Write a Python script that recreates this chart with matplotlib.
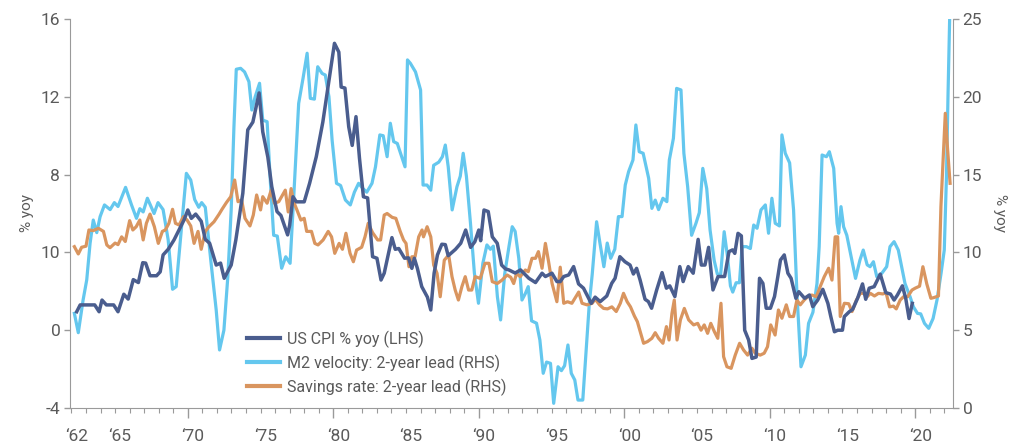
import matplotlib
matplotlib.use('Agg')
import matplotlib.pyplot as plt
from matplotlib.ticker import FixedLocator, MultipleLocator, FuncFormatter
from matplotlib.transforms import ScaledTranslation

plt.rcParams['font.family'] = ['Roboto', 'DejaVu Sans']

# US CPI % yoy (left axis)
cpi_years = [1962.36, 1962.6, 1963.6, 1963.9, 1964.1, 1964.4, 1964.9, 1965.2, 1965.6, 1965.9,
             1966.25, 1966.6, 1966.9, 1967.1, 1967.4, 1967.85, 1968.1, 1968.3, 1968.65, 1969.05,
             1969.45, 1969.74, 1970.0, 1970.24, 1970.54, 1970.92, 1971.2, 1971.5, 1971.95, 1972.25,
             1972.5, 1972.98, 1973.3, 1973.78, 1974.12, 1974.47, 1974.9, 1975.15, 1975.5, 1975.77,
             1976.13, 1976.4, 1976.86, 1977.0, 1977.23, 1977.46, 1978.0, 1978.37, 1978.83, 1979.28,
             1979.74, 1980.08, 1980.38, 1980.54, 1980.8, 1981.06, 1981.3, 1981.56, 1981.8, 1982.07,
             1982.36, 1982.7, 1983.0, 1983.28, 1983.5, 1984.03, 1984.26, 1984.5, 1984.9, 1985.17,
             1985.4, 1985.57, 1985.78, 1986.08, 1986.47, 1986.7, 1986.93, 1987.16, 1987.46, 1987.7,
             1987.9, 1988.4, 1988.76, 1989.1, 1989.44, 1989.73, 1990.0, 1990.13, 1990.36, 1990.65,
             1990.93, 1991.27, 1991.57, 1991.84, 1992.07, 1992.5, 1992.87, 1993.44, 1993.9, 1994.35,
             1994.58, 1995.03, 1995.37, 1995.6, 1995.84, 1996.18, 1996.52, 1996.86, 1997.2, 1997.73,
             1998.0, 1998.35, 1998.8, 1999.14, 1999.37, 1999.7, 2000.05, 2000.4, 2000.63, 2000.85,
             2001.09, 2001.43, 2001.66, 2001.88, 2002.23, 2002.6, 2002.9, 2003.13, 2003.48, 2003.82,
             2004.05, 2004.4, 2004.74, 2005.08, 2005.3, 2005.55, 2005.8, 2006.1, 2006.45, 2006.9,
             2007.2, 2007.45, 2007.6, 2007.82, 2008.05, 2008.28, 2008.55, 2008.78, 2009.07, 2009.3,
             2009.53, 2009.76, 2010.05, 2010.33, 2010.56, 2010.74, 2011.0, 2011.25, 2011.47, 2011.8,
             2012.0, 2012.4, 2012.73, 2012.96, 2013.3, 2013.65, 2014.0, 2014.2, 2014.45, 2014.68,
             2015.0, 2015.13, 2015.47, 2015.7, 2016.04, 2016.38, 2016.6, 2016.84, 2017.18, 2017.6,
             2017.98, 2018.3, 2018.55, 2018.78, 2019.12, 2019.35, 2019.58, 2019.8]
cpi = [0.95, 1.3, 1.3, 0.95, 1.55, 1.3, 1.3, 0.95, 1.85, 1.6,
       2.6, 2.45, 3.47, 3.45, 2.8, 2.8, 3.0, 3.87, 4.16, 4.64,
       5.24, 5.67, 6.18, 5.75, 5.97, 5.6, 4.67, 4.47, 3.35, 3.45,
       2.67, 3.35, 4.64, 7.04, 10.3, 10.7, 12.2, 10.2, 8.9, 7.38,
       6.1, 5.9, 4.9, 5.4, 6.86, 6.6, 6.6, 7.55, 8.92, 10.7,
       13.03, 14.75, 14.3, 12.5, 12.45, 10.46, 9.5, 10.98, 8.84, 6.86,
       6.8, 3.78, 3.7, 2.58, 2.93, 4.76, 4.16, 4.2, 3.7, 3.72,
       3.18, 3.7, 3.18, 2.24, 1.7, 1.04, 2.93, 3.87, 4.42, 4.4,
       3.83, 4.16, 4.47, 5.15, 4.26, 4.55, 5.15, 4.6, 6.18, 6.1,
       4.8, 4.47, 3.35, 3.15, 3.1, 2.94, 3.1, 2.67, 2.45, 2.93,
       2.76, 2.93, 2.5, 2.5, 2.76, 2.84, 3.27, 2.38, 2.16, 1.38,
       1.7, 1.47, 1.76, 2.41, 2.67, 3.78, 3.52, 3.35, 2.89, 3.18,
       2.58, 1.59, 1.47, 1.13, 2.07, 2.96, 2.16, 2.28, 1.73, 3.27,
       2.5, 3.27, 2.93, 4.67, 3.35, 3.35, 4.26, 2.07, 2.76, 2.76,
       4.04, 4.13, 3.95, 4.98, 4.85, 0.0, -0.5, -1.45, -1.38, 2.67,
       2.41, 1.13, 1.13, 1.73, 2.76, 3.61, 3.87, 2.93, 2.67, 1.64,
       1.98, 1.64, 1.81, 1.21, 1.55, 2.1, 1.38, 0.7, -0.08, 0.0,
       0.0, 0.7, 0.95, 1.07, 1.64, 2.38, 1.59, 2.16, 2.24, 2.88,
       1.93, 1.86, 1.55, 1.81, 2.28, 1.64, 0.6, 1.38]

# M2 velocity, 2-year lead (right axis)
m2_years = [1962.2, 1962.47, 1962.8, 1963.05, 1963.28, 1963.5, 1963.74, 1963.97, 1964.27, 1964.66,
            1964.95, 1965.2, 1965.72, 1966.13, 1966.47, 1966.7, 1966.93, 1967.22, 1967.68, 1967.95,
            1968.3, 1968.65, 1968.95, 1969.2, 1969.57, 1969.9, 1970.2, 1970.47, 1970.75, 1970.95,
            1971.2, 1971.6, 1971.95, 1972.18, 1972.48, 1972.75, 1972.98, 1973.17, 1973.33, 1973.63,
            1973.9, 1974.2, 1974.4, 1974.63, 1974.93, 1975.15, 1975.45, 1975.68, 1975.9, 1976.15,
            1976.45, 1976.73, 1977.03, 1977.28, 1977.62, 1977.92, 1978.2, 1978.42, 1978.7, 1978.93,
            1979.23, 1979.45, 1979.7, 1979.92, 1980.22, 1980.5, 1980.83, 1981.17, 1981.45, 1981.74,
            1982.04, 1982.3, 1982.66, 1982.9, 1983.2, 1983.43, 1983.7, 1983.92, 1984.15, 1984.4,
            1984.7, 1984.93, 1985.1, 1985.3, 1985.65, 1986.0, 1986.17, 1986.44, 1986.7, 1986.9,
            1987.25, 1987.5, 1987.7, 1987.9, 1988.17, 1988.5, 1988.73, 1988.93, 1989.15, 1989.43,
            1989.7, 1989.98, 1990.28, 1990.56, 1990.8, 1991.0, 1991.28, 1991.5, 1991.78, 1992.08,
            1992.3, 1992.5, 1992.75, 1992.97, 1993.2, 1993.4, 1993.63, 1993.97, 1994.2, 1994.43,
            1994.66, 1994.93, 1995.15, 1995.45, 1995.68, 1995.9, 1996.13, 1996.36, 1996.6, 1996.82,
            1997.15, 1997.4, 1997.6, 1997.8, 1998.1, 1998.33, 1998.6, 1998.83, 1999.07, 1999.35,
            1999.6, 1999.85, 2000.07, 2000.3, 2000.6, 2000.8, 2001.03, 2001.3, 2001.68, 2001.9,
            2002.13, 2002.36, 2002.66, 2002.93, 2003.1, 2003.38, 2003.6, 2003.9, 2004.1, 2004.36,
            2004.63, 2004.93, 2005.16, 2005.4, 2005.67, 2005.9, 2006.18, 2006.4, 2006.63, 2006.87,
            2007.1, 2007.3, 2007.46, 2007.69, 2007.92, 2008.1, 2008.4, 2008.67, 2008.9, 2009.13,
            2009.4, 2009.7, 2009.92, 2010.15, 2010.38, 2010.67, 2010.84, 2011.07, 2011.37, 2011.64,
            2011.87, 2012.15, 2012.45, 2012.67, 2012.97, 2013.25, 2013.4, 2013.6, 2013.9, 2014.1,
            2014.4, 2014.63, 2014.74, 2014.9, 2015.08, 2015.3, 2015.6, 2015.9, 2016.2, 2016.43,
            2016.7, 2016.9, 2017.13, 2017.36, 2017.7, 2018.04, 2018.27, 2018.55, 2018.84, 2019.07,
            2019.3, 2019.65, 2019.88, 2020.16, 2020.38, 2020.64, 2020.93, 2021.23, 2021.5, 2021.78,
            2022.0, 2022.15, 2022.26, 2022.37]
m2 = [6.08, 4.84, 6.94, 8.23, 10.58, 12.08, 11.27, 12.3, 13.05, 12.75,
      13.2, 12.95, 14.18, 13.05, 12.19, 12.81, 12.6, 13.48, 12.5, 13.2,
      12.75, 10.8, 7.63, 7.8, 11.65, 15.08, 14.65, 13.4, 12.9, 13.2,
      12.9, 9.3, 6.3, 3.73, 5.0, 8.44, 12.73, 18.08, 21.77, 21.83,
      21.6, 20.97, 19.15, 20.0, 20.87, 18.5, 18.4, 14.44, 11.1, 11.05,
      8.98, 9.72, 9.3, 13.58, 19.58, 21.19, 22.8, 19.9, 19.85, 21.93,
      21.5, 21.4, 20.0, 17.2, 14.44, 14.3, 13.37, 13.05, 13.87, 14.44,
      14.1, 13.87, 14.44, 15.5, 17.55, 17.5, 16.15, 18.3, 17.12, 17.0,
      16.15, 15.5, 22.37, 22.15, 21.6, 20.44, 14.33, 14.33, 14.0, 15.6,
      15.8, 16.15, 16.9, 15.5, 12.73, 14.22, 14.9, 16.37, 14.9, 11.87,
      8.66, 6.73, 9.3, 10.48, 10.2, 10.4, 7.15, 5.66, 8.6, 10.4,
      11.65, 11.35, 9.62, 6.94, 7.35, 7.8, 5.6, 5.45, 4.37, 2.23,
      2.95, 2.87, 0.3, 2.65, 2.4, 2.72, 4.05, 2.23, 1.8, 0.51,
      0.51, 3.94, 6.73, 8.6, 11.97, 10.6, 9.08, 10.6, 9.62, 10.2,
      12.3, 12.3, 14.33, 15.19, 15.94, 18.19, 16.47, 16.37, 14.76, 12.83,
      13.36, 12.75, 13.48, 13.26, 15.94, 17.33, 20.54, 20.44, 16.37, 14.22,
      11.1, 11.87, 12.55, 15.4, 14.1, 11.44, 9.5, 8.6, 8.6, 11.33,
      9.72, 7.85, 7.45, 8.05, 8.05, 10.37, 10.37, 10.25, 11.76, 11.55,
      12.73, 13.05, 11.23, 13.48, 11.87, 11.7, 17.55, 16.37, 15.75, 12.73,
      7.37, 2.65, 3.4, 5.44, 6.15, 8.0, 10.37, 16.26, 16.15, 16.47,
      15.4, 11.87, 11.23, 12.94, 11.65, 11.1, 9.72, 8.33, 9.5, 10.15,
      9.2, 9.08, 9.4, 8.44, 8.65, 9.08, 10.37, 10.69, 10.15, 9.08,
      8.0, 7.15, 6.5, 6.08, 6.05, 5.44, 5.12, 5.75, 6.94, 8.66,
      10.15, 14.87, 20.23, 25.0]

# Savings rate, 2-year lead (right axis)
sav_years = [1962.2, 1962.47, 1962.7, 1963.0, 1963.2, 1963.5, 1963.85, 1964.2, 1964.43, 1964.65,
             1965.0, 1965.2, 1965.45, 1965.7, 1966.0, 1966.22, 1966.45, 1966.7, 1966.93, 1967.15,
             1967.4, 1967.7, 1967.97, 1968.25, 1968.45, 1968.7, 1968.95, 1969.15, 1969.4, 1969.7,
             1969.95, 1970.2, 1970.43, 1970.7, 1970.92, 1971.2, 1971.45, 1971.8, 1972.15, 1972.35,
             1972.65, 1972.95, 1973.22, 1973.45, 1973.7, 1973.93, 1974.27, 1974.5, 1974.73, 1975.0,
             1975.15, 1975.45, 1975.73, 1975.95, 1976.25, 1976.7, 1976.9, 1977.1, 1977.27, 1977.5,
             1977.77, 1978.0, 1978.17, 1978.5, 1978.73, 1978.95, 1979.3, 1979.65, 1979.88, 1980.1,
             1980.4, 1980.63, 1980.87, 1981.15, 1981.38, 1981.6, 1981.95, 1982.18, 1982.4, 1982.7,
             1983.05, 1983.25, 1983.5, 1983.7, 1984.05, 1984.3, 1984.6, 1984.83, 1985.0, 1985.2,
             1985.4, 1985.62, 1985.87, 1986.1, 1986.2, 1986.45, 1986.7, 1986.9, 1987.13, 1987.35,
             1987.63, 1987.93, 1988.16, 1988.38, 1988.6, 1988.84, 1989.07, 1989.3, 1989.52, 1989.75,
             1990.1, 1990.43, 1990.7, 1990.93, 1991.27, 1991.6, 1991.95, 1992.2, 1992.4, 1992.6,
             1992.85, 1993.2, 1993.4, 1993.66, 1993.9, 1994.1, 1994.35, 1994.58, 1994.8, 1995.04,
             1995.37, 1995.6, 1995.84, 1996.1, 1996.4, 1996.64, 1996.87, 1997.1, 1997.44, 1997.8,
             1998.0, 1998.3, 1998.58, 1998.85, 1999.15, 1999.45, 1999.73, 1999.95, 2000.2, 2000.43,
             2000.7, 2000.9, 2001.1, 2001.33, 2001.6, 2001.9, 2002.13, 2002.36, 2002.66, 2002.9,
             2003.08, 2003.28, 2003.44, 2003.63, 2003.86, 2004.13, 2004.43, 2004.77, 2005.05, 2005.28,
             2005.5, 2005.73, 2005.95, 2006.2, 2006.43, 2006.65, 2006.83, 2007.06, 2007.35, 2007.63,
             2007.93, 2008.2, 2008.48, 2008.78, 2009.0, 2009.35, 2009.62, 2009.85, 2010.07, 2010.37,
             2010.6, 2010.84, 2011.14, 2011.37, 2011.64, 2011.87, 2012.1, 2012.37, 2012.67, 2012.9,
             2013.2, 2013.47, 2013.75, 2014.05, 2014.28, 2014.5, 2014.67, 2014.85, 2015.13, 2015.43,
             2015.66, 2015.96, 2016.23, 2016.46, 2016.7, 2016.92, 2017.2, 2017.48, 2017.77, 2018.0,
             2018.24, 2018.5, 2018.7, 2018.97, 2019.2, 2019.48, 2019.78, 2020.0, 2020.3, 2020.53,
             2020.8, 2021.08, 2021.3, 2021.6, 2021.77, 2022.07, 2022.23, 2022.4]
sav = [10.37, 9.9, 10.33, 10.4, 11.44, 11.4, 11.55, 11.35, 10.48, 10.3,
       10.6, 10.5, 11.0, 10.7, 12.04, 11.44, 11.65, 12.08, 10.8, 11.87,
       12.46, 11.65, 10.58, 11.35, 11.44, 11.87, 12.77, 11.87, 11.76, 12.3,
       12.08, 11.7, 10.58, 11.35, 10.2, 11.35, 11.65, 11.97, 12.46, 12.77,
       13.2, 13.58, 14.65, 13.26, 13.37, 12.19, 11.7, 12.4, 13.69, 12.73,
       13.58, 13.16, 14.0, 13.16, 13.26, 14.0, 12.6, 14.1, 13.26, 12.73,
       12.08, 12.19, 11.35, 11.35, 10.58, 10.48, 10.8, 11.35, 11.0, 9.94,
       10.58, 10.2, 11.23, 9.94, 9.4, 10.15, 10.33, 11.0, 11.87, 11.27,
       10.8, 10.8, 12.4, 12.5, 12.25, 12.19, 11.35, 10.8, 10.58, 9.08,
       9.72, 9.72, 11.0, 11.44, 11.0, 11.65, 11.0, 9.19, 8.66, 7.15,
       9.5, 9.83, 8.44, 7.58, 6.94, 7.8, 8.44, 7.58, 7.58, 8.44,
       8.33, 9.3, 9.3, 8.12, 8.0, 8.22, 8.55, 8.4, 8.0, 8.66,
       8.44, 8.87, 8.76, 9.62, 9.62, 10.05, 8.98, 10.58, 9.4, 8.0,
       6.83, 9.05, 6.73, 6.83, 6.73, 7.1, 7.45, 6.73, 6.63, 6.73,
       7.0, 6.63, 6.4, 6.37, 6.5, 6.2, 6.73, 7.37, 6.83, 6.5,
       5.91, 5.55, 4.9, 4.16, 4.27, 4.48, 4.84, 4.48, 4.16, 5.23,
       4.37, 6.08, 6.94, 4.37, 5.66, 6.4, 5.66, 5.34, 5.44, 5.0,
       5.34, 4.8, 5.44, 4.9, 4.48, 6.73, 3.3, 2.65, 2.55, 3.4,
       4.16, 3.73, 3.4, 3.84, 3.52, 3.4, 3.52, 3.94, 5.34, 4.69,
       6.3, 5.77, 6.63, 5.88, 5.88, 6.94, 6.63, 6.94, 7.2, 7.26,
       7.15, 7.8, 8.44, 8.98, 8.22, 11.0, 11.0, 5.88, 6.73, 6.7,
       6.2, 6.94, 7.37, 7.37, 7.15, 7.37, 7.2, 7.37, 7.33, 7.4,
       6.5, 6.55, 6.37, 6.94, 7.15, 7.15, 7.58, 7.7, 7.83, 9.08,
       7.97, 7.05, 7.1, 7.2, 12.94, 18.94, 16.6, 14.44]

left_ticks = [-4, 0, 4, 8, 12, 16]
left_labels = ['-4', '0', '10', '8', '12', '16']
right_ticks = [0, 5, 10, 15, 20, 25]
decades = [1970, 1980, 1990, 2000, 2010, 2020]
other_labelled = [1962, 1965, 1975, 1985, 1995, 2005, 2015]

navy = '#4a5d8e'
light = '#64c7ee'
orange = '#d9955f'
grey_txt = '#5a5a5a'
grey_ax = '#9a9a9a'


def yr_label(v, pos=None):
    return '\u2018%02d' % (int(round(v)) % 100)


def minor_label(v, pos=None):
    if int(round(v)) in other_labelled:
        return yr_label(v)
    return ''


fig = plt.figure(figsize=(10.18, 4.46), dpi=100)
ax = fig.add_axes([70 / 1018, 1 - 408 / 446, 883 / 1018, 389 / 446])
ax2 = ax.twinx()

l2, = ax2.plot(m2_years, m2, color=light, lw=2.3, solid_joinstyle='round',
               label='M2 velocity: 2-year lead (RHS)')
l3, = ax2.plot(sav_years, sav, color=orange, lw=2.3, solid_joinstyle='round',
               label='Savings rate: 2-year lead (RHS)')
l1, = ax.plot(cpi_years, cpi, color=navy, lw=2.5, solid_joinstyle='round',
              label='US CPI % yoy (LHS)')

ax.set_zorder(ax2.get_zorder() + 1)
ax.patch.set_visible(False)

ax.set_xlim(1961.9, 2022.6)
ax.set_ylim(-4, 16)
ax2.set_ylim(0, 25)

ax.xaxis.set_major_locator(FixedLocator(decades))
ax.xaxis.set_major_formatter(FuncFormatter(yr_label))
ax.xaxis.set_minor_locator(MultipleLocator(1))
ax.xaxis.set_minor_formatter(FuncFormatter(minor_label))
ax.tick_params(axis='x', which='major', length=7, width=1, color=grey_ax,
               pad=8, labelsize=12.5, labelcolor=grey_txt)
ax.tick_params(axis='x', which='minor', length=3.8, width=0.8, color=grey_ax,
               pad=11.2, labelsize=12.5, labelcolor=grey_txt)

ax.set_yticks(left_ticks)
ax.set_yticklabels(left_labels)
ax.tick_params(axis='y', length=4, width=1, color=grey_ax, pad=3,
               labelsize=12.5, labelcolor=grey_txt)
ax2.set_yticks(right_ticks)
ax2.tick_params(axis='y', length=4, width=1, color=grey_ax, pad=3,
                labelsize=12.5, labelcolor=grey_txt)

for s in ['top', 'right']:
    ax.spines[s].set_visible(False)
for s in ['top', 'left', 'bottom']:
    ax2.spines[s].set_visible(False)
ax.spines['left'].set_color(grey_ax)
ax.spines['bottom'].set_color(grey_ax)
ax2.spines['right'].set_color(grey_ax)

ax.set_ylabel('% yoy', color=grey_txt, fontsize=11, va='center')
ax.yaxis.set_label_coords(-0.049, 0.5)
ax2.set_ylabel('% yoy', color=grey_txt, fontsize=11, rotation=270, va='center')
ax2.yaxis.set_label_coords(1.053, 0.5)

# nudge year labels right, like the original
shift = ScaledTranslation(5 / 100, 0, fig.dpi_scale_trans)
for lab in ax.get_xticklabels(which='both'):
    lab.set_transform(lab.get_transform() + shift)

leg = ax.legend(handles=[l1, l2, l3], loc='lower left', bbox_to_anchor=(0.2, 0.032),
                frameon=False, fontsize=11.5, handlelength=2.1, handletextpad=0.45,
                labelspacing=0.42, borderpad=0, borderaxespad=0)
for t in leg.get_texts():
    t.set_color(grey_txt)
for h in leg.legend_handles:
    h.set_linewidth(3)

fig.savefig('out.png', dpi=100)
